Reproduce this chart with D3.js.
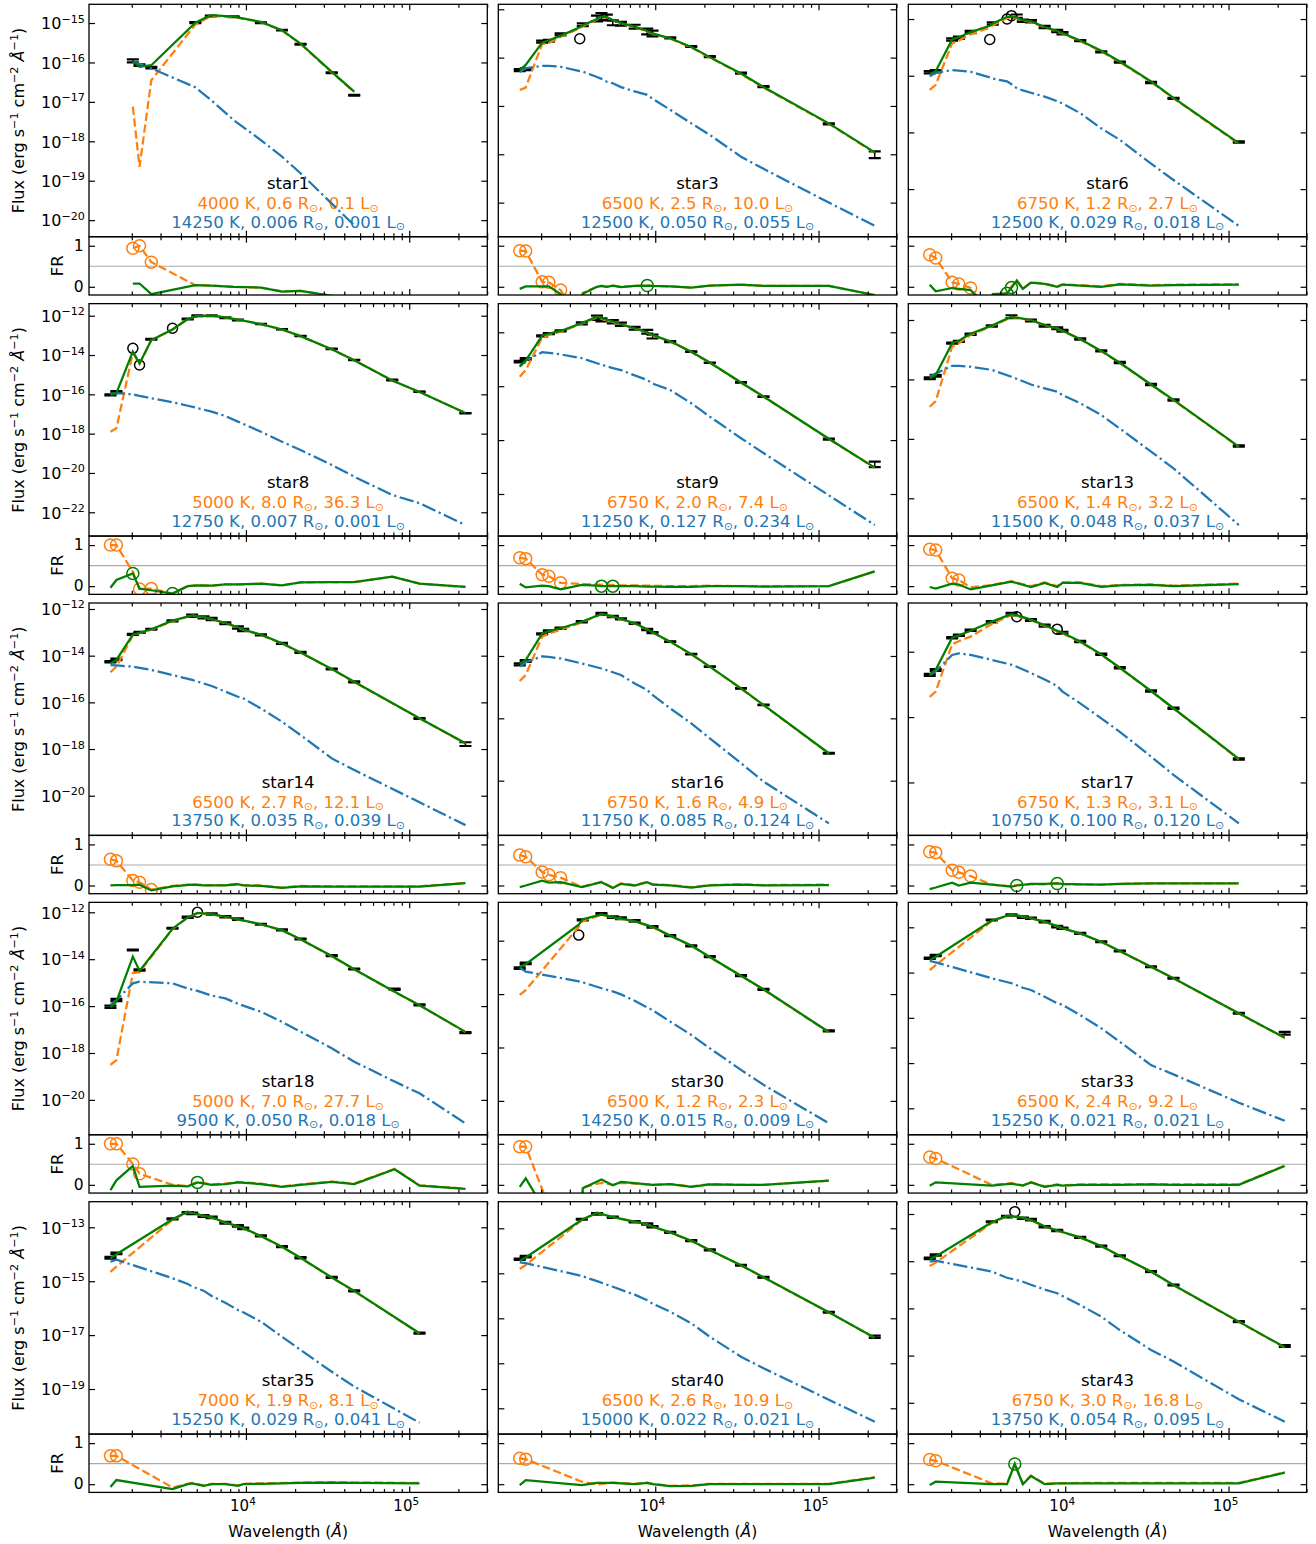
<!DOCTYPE html>
<html lang="en">
<head>
<meta charset="utf-8">
<title>Two-component SED fits</title>
<script src="https://cdn.jsdelivr.net/npm/d3@7/dist/d3.min.js"></script>
<style>
  body { margin: 0; background: #fff; }
  svg text { font-family: "DejaVu Sans", sans-serif; }
</style>
</head>
<body>
<script>
// fluxes are log10(erg s-1 cm-2 A-1), wavelengths in A
// cool = orange dashed, hot = blue dash-dot, tot = green solid, frC/frT = fractional residuals

const xDomain = [1094, 300600];
const xMajorTicks = [1e4, 1e5];
const xMinorTicks = [2e3, 3e3, 4e3, 5e3, 6e3, 7e3, 8e3, 9e3, 2e4, 3e4, 4e4, 5e4, 6e4, 7e4, 8e4, 9e4, 2e5, 3e5];
const frRange = [-0.2, 1.22];
const frTicks = [0, 1];

// ---- star1
const s1Wave = [2030, 2231, 2634, 4900, 6100, 8400, 12350, 16620, 21590, 33526, 46028];
const s1Obs  = [-15.96, -16.07, -16.13, -14.99, -14.82, -14.84, -14.99, -15.18, -15.54, -16.26, -16.83];
const s1Err  = [0.04, 0.02, 0.02, 0.015, 0.01, 0.01, 0.01, 0.01, 0.01, 0.01, 0.01];
const s1Cool = [-17.12, -18.65, -16.45, -15.04, -14.82, -14.85, -14.98, -15.19, -15.53, -16.25, -16.75];
const s1Hot  = [-15.98, -16.04, -16.15, -16.63, -16.95, -17.46, -17.97, -18.39, -18.81, -19.58, -20.13];
const s1Tot  = [-15.96, -16.11, -16.07, -14.99, -14.80, -14.84, -14.97, -15.18, -15.52, -16.24, -16.74];
const s1FrC  = [0.94, 1.0, 0.6, 0.04, 0.03, 0.0, -0.02, -0.11, -0.1, -0.22, -0.3];
const s1FrT  = [0.08, 0.08, -0.18, 0.04, 0.03, 0.0, -0.02, -0.12, -0.1, -0.22, -0.3];
const s1Open = [], s1MarkC = [0, 1, 2], s1MarkT = [];
const s1CoolPar = [4000, 0.6, 0.1], s1HotPar = [14250, 0.006, 0.001];
const s1YRange = [-20.42, -14.525], s1YTicks = [-20, -19, -18, -17, -16, -15];

// ---- star3
const s3Wave = [1480, 1610, 2030, 2231, 2634, 3450, 3600, 4400, 4686, 5050, 5500, 6166, 7480, 8932, 9620, 12350, 16620, 21590, 33526, 46028, 115608, 220883];
const s3Obs  = [-16.26, -16.24, -15.67, -15.65, -15.52, -15.61, -15.32, -15.19, -15.15, -15.17, -15.28, -15.30, -15.36, -15.46, -15.50, -15.59, -15.77, -15.98, -16.32, -16.60, -17.37, -18.01];
const s3Err  = [0.02, 0.02, 0.02, 0.02, 0.02, 0, 0.03, 0.06, 0.07, 0.06, 0.05, 0.04, 0.04, 0.06, 0.06, 0.01, 0.01, 0.01, 0.01, 0.01, 0.01, 0.07];
const s3Cool = [-16.67, -16.62, -15.72, -15.70, -15.57, -15.39, -15.35, -15.21, -15.16, -15.17, -15.23, -15.29, -15.37, -15.46, -15.51, -15.61, -15.79, -16.00, -16.34, -16.62, -17.37, -17.97];
const s3Hot  = [-16.30, -16.22, -16.17, -16.17, -16.19, -16.28, -16.29, -16.40, -16.44, -16.50, -16.53, -16.61, -16.70, -16.77, -16.85, -17.08, -17.36, -17.60, -18.05, -18.30, -19.00, -19.48];
const s3Tot  = [-16.26, -16.15, -15.69, -15.64, -15.55, -15.37, -15.33, -15.20, -15.15, -15.16, -15.22, -15.28, -15.36, -15.45, -15.50, -15.60, -15.78, -15.99, -16.33, -16.61, -17.36, -17.96];
const s3FrC  = [0.88, 0.87, 0.12, 0.11, -0.08, -0.80, -0.15, 0.0, 0.02, 0.0, 0.03, 0.0, 0.02, 0.03, 0.02, 0.01, -0.02, 0.03, 0.05, 0.02, 0.02, -0.2];
const s3FrT  = [-0.05, 0.01, 0.01, 0.01, -0.18, -0.85, -0.17, 0.0, 0.02, 0.0, 0.03, -0.01, 0.02, 0.03, 0.02, 0.01, -0.02, 0.03, 0.05, 0.02, 0.02, -0.2];
const s3Open = [5], s3MarkC = [0, 1, 2, 3, 4], s3MarkT = [13];
const s3CoolPar = [6500, 2.5, 10.0], s3HotPar = [12500, 0.050, 0.055];
const s3YRange = [-19.705, -14.897], s3YTicks = [-19, -18, -17, -16, -15];

// ---- star6
const s6Wave = [1480, 1610, 2030, 2231, 2634, 3450, 3600, 4400, 4686, 5050, 5500, 6166, 7480, 8932, 9620, 12350, 16620, 21590, 33526, 46028, 115608];
const s6Obs  = [-15.94, -15.92, -15.36, -15.33, -15.23, -15.36, -15.08, -15.00, -14.94, -14.95, -15.03, -15.04, -15.14, -15.21, -15.25, -15.38, -15.58, -15.76, -16.12, -16.40, -17.17];
const s6Err  = [0.02, 0.02, 0.02, 0.02, 0.02, 0, 0.02, 0, 0, 0.03, 0.02, 0.02, 0.02, 0.02, 0.02, 0.01, 0.01, 0.01, 0.01, 0.01, 0.01];
const s6Cool = [-16.25, -16.16, -15.43, -15.38, -15.27, -15.15, -15.11, -14.98, -14.98, -14.99, -15.03, -15.05, -15.15, -15.22, -15.26, -15.39, -15.57, -15.76, -16.11, -16.40, -17.20];
const s6Hot  = [-16.01, -15.95, -15.90, -15.91, -15.93, -16.03, -16.05, -16.10, -16.15, -16.22, -16.26, -16.30, -16.37, -16.45, -16.49, -16.66, -16.93, -17.13, -17.55, -17.84, -18.65];
const s6Tot  = [-15.97, -15.92, -15.36, -15.32, -15.23, -15.12, -15.08, -14.96, -14.96, -14.97, -15.02, -15.04, -15.14, -15.21, -15.25, -15.38, -15.56, -15.75, -16.10, -16.39, -17.19];
const s6FrC  = [0.78, 0.70, 0.11, 0.07, -0.03, -0.60, -0.25, -0.15, 0.0, 0.16, -0.04, 0.11, 0.08, 0.01, 0.06, 0.04, 0.01, 0.07, 0.04, 0.05, 0.06];
const s6FrT  = [0.05, -0.11, -0.03, -0.05, -0.08, -0.60, -0.18, -0.16, -0.02, 0.15, -0.05, 0.10, 0.07, 0.0, 0.05, 0.03, 0.0, 0.06, 0.03, 0.04, 0.05];
const s6Open = [5, 7, 8], s6MarkC = [0, 1, 2, 3, 4], s6MarkT = [7, 8];
const s6CoolPar = [6750, 1.2, 2.7], s6HotPar = [12500, 0.029, 0.018];
const s6YRange = [-18.84, -14.74], s6YTicks = [-18, -17, -16, -15];

// ---- star8
const s8Wave = [1480, 1610, 2030, 2231, 2634, 3551, 4400, 5050, 6166, 7480, 8932, 12350, 16620, 21590, 33526, 46028, 78700, 115608, 220883];
const s8Obs  = [-16.03, -15.87, -13.66, -14.51, -13.20, -12.64, -12.17, -12.00, -12.00, -12.10, -12.22, -12.42, -12.69, -13.03, -13.69, -14.25, -15.27, -15.87, -16.96];
const s8Err  = [0.03, 0.03, 0, 0, 0.02, 0, 0.02, 0.02, 0.02, 0.02, 0.02, 0.01, 0.01, 0.01, 0.01, 0.01, 0.02, 0.01, 0.01];
const s8Cool = [-17.90, -17.73, -13.90, -14.45, -13.25, -12.70, -12.17, -12.02, -12.00, -12.08, -12.20, -12.43, -12.70, -13.04, -13.71, -14.27, -15.30, -15.88, -16.95];
const s8Hot  = [-15.97, -15.94, -16.00, -16.08, -16.20, -16.40, -16.58, -16.70, -16.88, -17.10, -17.39, -17.90, -18.41, -18.83, -19.59, -20.19, -21.12, -21.54, -22.65];
const s8Tot  = [-16.03, -15.94, -13.83, -14.43, -13.24, -12.70, -12.17, -12.02, -12.00, -12.08, -12.20, -12.43, -12.70, -13.04, -13.71, -14.27, -15.30, -15.88, -16.95];
const s8FrC  = [1.0, 1.0, 0.35, -0.07, -0.06, -0.18, 0.0, 0.02, 0.01, 0.04, 0.04, 0.06, 0.02, 0.09, 0.1, 0.1, 0.23, 0.06, -0.02];
const s8FrT  = [-0.04, 0.15, 0.31, -0.06, -0.10, -0.18, 0.0, 0.02, 0.01, 0.04, 0.04, 0.06, 0.02, 0.09, 0.1, 0.1, 0.23, 0.06, -0.02];
const s8Open = [2, 3, 5], s8MarkC = [0, 1, 3, 4], s8MarkT = [2, 5];
const s8CoolPar = [5000, 8.0, 36.3], s8HotPar = [12750, 0.007, 0.001];
const s8YRange = [-23.21, -11.387], s8YTicks = [-22, -20, -18, -16, -14, -12];

// ---- star9
const s9Wave = [1480, 1610, 2030, 2231, 2634, 3551, 4400, 4686, 5500, 6166, 7480, 8932, 9620, 12350, 16620, 21590, 33526, 46028, 115608, 220883];
const s9Obs  = [-15.09, -14.99, -14.13, -14.05, -13.95, -13.67, -13.46, -13.54, -13.61, -13.70, -13.85, -13.98, -14.16, -14.35, -14.72, -15.13, -15.86, -16.39, -17.96, -18.90];
const s9Err  = [0.03, 0.03, 0.02, 0.02, 0.02, 0.04, 0.08, 0.06, 0.06, 0.06, 0.05, 0.07, 0.07, 0.02, 0.01, 0.01, 0.01, 0.01, 0.02, 0.10];
const s9Cool = [-15.65, -15.40, -14.20, -14.10, -13.98, -13.68, -13.44, -13.50, -13.62, -13.71, -13.86, -14.01, -14.11, -14.34, -14.73, -15.13, -15.87, -16.39, -17.96, -19.03];
const s9Hot  = [-15.28, -15.05, -14.74, -14.76, -14.82, -14.96, -15.15, -15.20, -15.33, -15.40, -15.60, -15.77, -15.90, -16.14, -16.63, -17.13, -17.93, -18.48, -20.05, -21.15];
const s9Tot  = [-15.26, -15.05, -14.13, -14.05, -13.95, -13.66, -13.42, -13.48, -13.60, -13.70, -13.85, -14.00, -14.10, -14.33, -14.72, -15.12, -15.86, -16.38, -17.95, -19.02];
const s9FrC  = [0.69, 0.67, 0.28, 0.24, 0.08, 0.05, 0.04, 0.03, 0.03, 0.02, 0.02, 0.01, 0.01, 0.0, 0.0, 0.01, 0.0, 0.0, 0.0, 0.36];
const s9FrT  = [0.06, -0.03, 0.01, 0.0, -0.08, 0.03, 0.01, 0.0, 0.0, 0.0, 0.0, -0.01, -0.01, -0.02, -0.02, 0.0, 0.0, -0.01, 0.0, 0.36];
const s9Open = [], s9MarkC = [0, 1, 2, 3, 4], s9MarkT = [7, 8];
const s9CoolPar = [6750, 2.0, 7.4], s9HotPar = [11250, 0.127, 0.234];
const s9YRange = [-21.56, -12.937], s9YTicks = [-20, -18, -16, -14];

// ---- star13
const s13Wave = [1480, 1610, 2030, 2231, 2634, 3551, 4686, 6166, 7480, 8932, 9620, 12350, 16620, 21590, 33526, 46028, 115608];
const s13Obs  = [-13.96, -13.88, -12.78, -12.72, -12.48, -12.20, -11.89, -12.02, -12.19, -12.28, -12.36, -12.64, -13.04, -13.43, -14.17, -14.69, -16.24];
const s13Err  = [0.03, 0.03, 0.02, 0.02, 0.02, 0.02, 0.05, 0.03, 0.03, 0.03, 0.03, 0.02, 0.02, 0.02, 0.02, 0.02, 0.02];
const s13Cool = [-14.92, -14.73, -12.90, -12.78, -12.50, -12.21, -11.90, -12.01, -12.18, -12.29, -12.37, -12.65, -13.05, -13.45, -14.18, -14.70, -16.27];
const s13Hot  = [-13.91, -13.80, -13.54, -13.54, -13.57, -13.68, -13.91, -14.17, -14.30, -14.41, -14.53, -14.80, -15.20, -15.65, -16.43, -16.99, -18.90];
const s13Tot  = [-13.96, -13.85, -12.78, -12.70, -12.46, -12.19, -11.89, -12.00, -12.17, -12.28, -12.36, -12.64, -13.04, -13.44, -14.17, -14.69, -16.26];
const s13FrC  = [0.90, 0.88, 0.19, 0.15, -0.03, 0.03, 0.12, 0.0, 0.09, 0.0, 0.09, 0.09, 0.0, 0.03, 0.04, 0.01, 0.06];
const s13FrT  = [-0.02, -0.06, 0.06, 0.04, -0.08, 0.02, 0.11, -0.02, 0.08, -0.02, 0.08, 0.08, -0.02, 0.02, 0.03, 0.0, 0.05];
const s13Open = [], s13MarkC = [0, 1, 2, 3], s13MarkT = [];
const s13CoolPar = [6500, 1.4, 3.2], s13HotPar = [11500, 0.048, 0.037];
const s13YRange = [-19.27, -11.45], s13YTicks = [-18, -16, -14, -12];

// ---- star14
const s14Wave = [1480, 1610, 2030, 2231, 2634, 3551, 4686, 5500, 6166, 7480, 8932, 9620, 12350, 16620, 21590, 33526, 46028, 115608, 220883];
const s14Obs  = [-14.26, -14.16, -13.09, -13.00, -12.87, -12.51, -12.29, -12.36, -12.43, -12.61, -12.79, -12.90, -13.11, -13.47, -13.86, -14.57, -15.12, -16.69, -17.79];
const s14Err  = [0.03, 0.03, 0.02, 0.02, 0.02, 0.02, 0.05, 0.04, 0.05, 0.04, 0.05, 0.05, 0.02, 0.02, 0.02, 0.02, 0.02, 0.02, 0.08];
const s14Cool = [-14.71, -14.47, -13.13, -13.04, -12.89, -12.52, -12.28, -12.36, -12.44, -12.61, -12.79, -12.89, -13.11, -13.48, -13.87, -14.58, -15.13, -16.69, -17.76];
const s14Hot  = [-14.40, -14.42, -14.47, -14.52, -14.61, -14.83, -15.04, -15.19, -15.30, -15.54, -15.76, -15.83, -16.26, -16.83, -17.40, -18.40, -18.90, -20.28, -21.26];
const s14Tot  = [-14.33, -14.18, -13.10, -13.02, -12.87, -12.50, -12.27, -12.35, -12.43, -12.60, -12.78, -12.88, -13.10, -13.47, -13.86, -14.57, -15.12, -16.68, -17.75];
const s14FrC  = [0.64, 0.60, 0.12, 0.08, -0.10, -0.01, 0.03, 0.01, 0.01, 0.01, 0.04, 0.01, 0.0, -0.05, -0.01, -0.02, -0.02, -0.02, 0.06];
const s14FrT  = [0.0, 0.01, 0.01, 0.02, -0.12, -0.02, 0.02, 0.0, 0.0, 0.0, 0.03, 0.0, -0.01, -0.06, -0.02, -0.03, -0.03, -0.03, 0.06];
const s14Open = [], s14MarkC = [0, 1, 2, 3, 4], s14MarkT = [];
const s14CoolPar = [6500, 2.7, 12.1], s14HotPar = [13750, 0.035, 0.039];
const s14YRange = [-21.70, -11.743], s14YTicks = [-20, -18, -16, -14, -12];

// ---- star16
const s16Wave = [1480, 1610, 2030, 2231, 2634, 3551, 4686, 5500, 6166, 7480, 8932, 9620, 12350, 16620, 21590, 33526, 46028, 115608];
const s16Obs  = [-14.27, -14.16, -13.29, -13.20, -13.11, -12.90, -12.65, -12.73, -12.81, -12.95, -13.15, -13.25, -13.54, -13.94, -14.34, -15.04, -15.57, -17.12];
const s16Err  = [0.03, 0.03, 0.02, 0.02, 0.02, 0.02, 0.03, 0.02, 0.02, 0.02, 0.02, 0.02, 0.01, 0.01, 0.01, 0.01, 0.01, 0.01];
const s16Cool = [-14.80, -14.61, -13.38, -13.28, -13.16, -12.92, -12.66, -12.74, -12.82, -12.96, -13.15, -13.25, -13.55, -13.95, -14.35, -15.05, -15.58, -17.13];
const s16Hot  = [-14.34, -14.20, -14.01, -14.03, -14.08, -14.24, -14.40, -14.52, -14.61, -14.88, -15.09, -15.25, -15.68, -16.16, -16.64, -17.44, -18.03, -19.37];
const s16Tot  = [-14.25, -14.13, -13.28, -13.20, -13.11, -12.90, -12.65, -12.73, -12.81, -12.95, -13.14, -13.24, -13.54, -13.94, -14.34, -15.04, -15.57, -17.12];
const s16FrC  = [0.74, 0.70, 0.33, 0.26, 0.19, -0.03, 0.09, -0.05, 0.05, 0.01, 0.09, 0.03, 0.01, -0.04, 0.01, 0.03, 0.01, 0.02];
const s16FrT  = [-0.04, 0.0, 0.12, 0.07, 0.08, -0.04, 0.08, -0.06, 0.04, 0.0, 0.08, 0.02, 0.0, -0.05, 0.0, 0.02, 0.0, 0.01];
const s16Open = [], s16MarkC = [0, 1, 2, 3, 4], s16MarkT = [];
const s16CoolPar = [6750, 1.6, 4.9], s16HotPar = [11750, 0.085, 0.124];
const s16YRange = [-19.756, -12.30], s16YTicks = [-18, -16, -14];

// ---- star17
const s17Wave = [1480, 1610, 2030, 2231, 2634, 3551, 4686, 5050, 6166, 7480, 8932, 9620, 12350, 16620, 21590, 33526, 46028, 115608];
const s17Obs  = [-14.71, -14.56, -13.57, -13.50, -13.34, -13.08, -12.85, -12.93, -13.03, -13.20, -13.31, -13.42, -13.69, -14.08, -14.49, -15.20, -15.73, -17.28];
const s17Err  = [0.03, 0.03, 0.02, 0.02, 0.02, 0.02, 0.04, 0, 0.03, 0.03, 0, 0.03, 0.02, 0.02, 0.02, 0.02, 0.02, 0.02];
const s17Cool = [-15.38, -15.22, -13.77, -13.68, -13.54, -13.15, -12.88, -12.90, -13.04, -13.21, -13.38, -13.44, -13.70, -14.09, -14.50, -15.21, -15.74, -17.29];
const s17Hot  = [-14.72, -14.60, -14.10, -14.05, -14.10, -14.25, -14.40, -14.46, -14.65, -14.85, -15.05, -15.22, -15.58, -16.04, -16.45, -17.21, -17.77, -19.25];
const s17Tot  = [-14.70, -14.55, -13.57, -13.50, -13.36, -13.08, -12.85, -12.88, -13.02, -13.19, -13.36, -13.42, -13.69, -14.08, -14.49, -15.20, -15.73, -17.28];
const s17FrC  = [0.82, 0.80, 0.37, 0.32, 0.23, 0.02, -0.02, 0.01, 0.03, 0.03, 0.06, 0.03, 0.03, 0.02, 0.04, 0.05, 0.05, 0.05];
const s17FrT  = [-0.09, -0.05, 0.07, 0.0, 0.07, 0.02, -0.03, 0.0, 0.04, 0.04, 0.05, 0.04, 0.03, 0.02, 0.04, 0.05, 0.05, 0.05];
const s17Open = [7, 10], s17MarkC = [0, 1, 2, 3, 4], s17MarkT = [7, 10];
const s17CoolPar = [6750, 1.3, 3.1], s17HotPar = [10750, 0.100, 0.120];
const s17YRange = [-19.62, -12.51], s17YTicks = [-18, -16, -14];

// ---- star18
const s18Wave = [1480, 1610, 2030, 2231, 3551, 4400, 5050, 6166, 7480, 8932, 12350, 16620, 21590, 33526, 46028, 81400, 115608, 220883];
const s18Obs  = [-16.03, -15.74, -13.61, -14.46, -12.68, -12.21, -12.00, -12.07, -12.19, -12.29, -12.51, -12.75, -13.14, -13.85, -14.42, -15.28, -15.95, -17.13];
const s18Err  = [0.05, 0.05, 0.02, 0.03, 0.02, 0.03, 0, 0.03, 0.03, 0.03, 0.02, 0.02, 0.02, 0.02, 0.02, 0.03, 0.02, 0.02];
const s18Cool = [-18.51, -18.30, -14.60, -14.55, -12.72, -12.23, -12.04, -12.09, -12.20, -12.31, -12.52, -12.77, -13.16, -13.87, -14.44, -15.40, -15.97, -17.11];
const s18Hot  = [-15.95, -15.75, -15.03, -14.96, -15.03, -15.25, -15.35, -15.55, -15.67, -15.90, -16.24, -16.67, -17.09, -17.80, -18.37, -19.22, -19.72, -21.00];
const s18Tot  = [-16.05, -15.81, -13.89, -14.50, -12.70, -12.22, -12.03, -12.08, -12.19, -12.30, -12.51, -12.76, -13.15, -13.86, -14.43, -15.39, -15.96, -17.10];
const s18FrC  = [1.0, 1.0, 0.51, 0.27, 0.0, -0.03, 0.07, 0.01, 0.03, 0.07, 0.03, -0.04, 0.01, 0.08, 0.03, 0.39, -0.01, -0.09];
const s18FrT  = [-0.13, 0.11, 0.46, -0.05, -0.02, -0.04, 0.06, 0.0, 0.02, 0.06, 0.02, -0.05, 0.0, 0.07, 0.02, 0.38, -0.02, -0.10];
const s18Open = [6], s18MarkC = [0, 1, 2, 3], s18MarkT = [6];
const s18CoolPar = [5000, 7.0, 27.7], s18HotPar = [9500, 0.050, 0.018];
const s18YRange = [-21.486, -11.576], s18YTicks = [-20, -18, -16, -14, -12];

// ---- star30
const s30Wave = [1480, 1610, 3400, 3600, 4686, 5500, 6166, 7480, 9620, 12350, 16620, 21590, 33526, 46028, 115608];
const s30Obs  = [-14.03, -13.85, -12.79, -12.22, -12.00, -12.12, -12.16, -12.26, -12.48, -12.81, -13.19, -13.60, -14.31, -14.82, -16.38];
const s30Err  = [0.03, 0.03, 0, 0.02, 0.03, 0.03, 0.03, 0.03, 0.03, 0.02, 0.02, 0.02, 0.02, 0.02, 0.02];
const s30Cool = [-15.03, -14.85, -12.48, -12.25, -12.03, -12.13, -12.18, -12.28, -12.49, -12.82, -13.19, -13.62, -14.32, -14.83, -16.43];
const s30Hot  = [-14.01, -14.16, -14.52, -14.56, -14.78, -14.90, -15.01, -15.25, -15.60, -16.03, -16.53, -17.03, -17.84, -18.40, -19.84];
const s30Tot  = [-13.97, -13.88, -12.40, -12.20, -12.02, -12.12, -12.17, -12.27, -12.48, -12.81, -13.18, -13.61, -14.31, -14.82, -16.42];
const s30FrC  = [0.93, 0.93, -2.4, -0.06, 0.05, 0.0, 0.05, 0.03, 0.0, 0.02, -0.04, 0.02, 0.0, 0.0, 0.1];
const s30FrT  = [-0.05, 0.16, -2.0, -0.08, 0.13, -0.01, 0.07, 0.04, 0.0, 0.02, -0.05, 0.01, 0.0, 0.0, 0.1];
const s30Open = [2], s30MarkC = [0, 1], s30MarkT = [];
const s30CoolPar = [6500, 1.2, 2.3], s30HotPar = [14250, 0.015, 0.009];
const s30YRange = [-20.268, -11.564], s30YTicks = [-19, -17, -15, -13];

// ---- star33
const s33Wave = [1480, 1610, 3551, 4686, 5500, 6166, 7480, 8932, 9620, 12350, 16620, 21590, 33526, 46028, 115608, 220883];
const s33Obs  = [-13.37, -13.25, -11.68, -11.46, -11.55, -11.60, -11.75, -11.97, -12.04, -12.27, -12.64, -13.05, -13.74, -14.25, -15.80, -16.68];
const s33Err  = [0.03, 0.03, 0.02, 0.03, 0.03, 0.03, 0.03, 0.03, 0.03, 0.02, 0.02, 0.02, 0.02, 0.02, 0.02, 0.06];
const s33Cool = [-13.89, -13.67, -11.72, -11.44, -11.53, -11.61, -11.76, -11.96, -12.05, -12.28, -12.65, -13.06, -13.75, -14.26, -15.81, -16.89];
const s33Hot  = [-13.49, -13.55, -14.25, -14.47, -14.67, -14.77, -15.07, -15.35, -15.43, -15.88, -16.46, -17.06, -18.09, -18.50, -19.75, -20.55];
const s33Tot  = [-13.44, -13.30, -11.70, -11.43, -11.52, -11.60, -11.75, -11.95, -12.04, -12.27, -12.64, -13.05, -13.74, -14.25, -15.80, -16.88];
const s33FrC  = [0.68, 0.64, 0.0, 0.04, -0.01, 0.07, -0.04, 0.01, -0.01, 0.01, 0.01, 0.01, 0.02, 0.01, 0.01, 0.47];
const s33FrT  = [-0.02, 0.06, -0.02, 0.03, -0.02, 0.06, -0.05, 0.0, -0.02, 0.0, 0.0, 0.0, 0.01, 0.0, 0.0, 0.46];
const s33Open = [], s33MarkC = [0, 1], s33MarkT = [];
const s33CoolPar = [6500, 2.4, 9.2], s33HotPar = [15250, 0.021, 0.021];
const s33YRange = [-21.167, -10.897], s33YTicks = [-20, -18, -16, -14, -12];

// ---- star35
const s35Wave = [1480, 1610, 3551, 4400, 4686, 5500, 6166, 7480, 8932, 9620, 12350, 16620, 21590, 33526, 46028, 115608];
const s35Obs  = [-14.13, -13.97, -12.69, -12.46, -12.48, -12.58, -12.63, -12.83, -12.95, -13.04, -13.32, -13.72, -14.13, -14.86, -15.36, -16.93];
const s35Err  = [0.03, 0.03, 0.02, 0.02, 0.03, 0.03, 0.03, 0.03, 0.03, 0.03, 0.02, 0.02, 0.02, 0.02, 0.02, 0.02];
const s35Cool = [-14.65, -14.46, -12.72, -12.43, -12.47, -12.58, -12.64, -12.83, -12.97, -13.04, -13.33, -13.73, -14.14, -14.87, -15.37, -16.94];
const s35Hot  = [-14.28, -14.20, -14.89, -15.10, -15.20, -15.35, -15.55, -15.80, -16.07, -16.15, -16.50, -17.06, -17.55, -18.36, -18.91, -20.25];
const s35Tot  = [-14.15, -14.00, -12.70, -12.42, -12.46, -12.57, -12.63, -12.82, -12.96, -13.03, -13.32, -13.72, -14.13, -14.86, -15.36, -16.93];
const s35FrC  = [0.69, 0.69, -0.08, 0.01, 0.03, -0.03, 0.01, 0.01, -0.03, 0.01, 0.02, 0.03, 0.04, 0.05, 0.04, 0.03];
const s35FrT  = [-0.07, 0.10, -0.12, 0.0, 0.02, -0.04, 0.0, 0.0, -0.04, 0.0, 0.01, 0.02, 0.03, 0.04, 0.03, 0.02];
const s35Open = [], s35MarkC = [0, 1], s35MarkT = [];
const s35CoolPar = [7000, 1.9, 8.1], s35HotPar = [15250, 0.029, 0.041];
const s35YRange = [-20.673, -12.05], s35YTicks = [-19, -17, -15, -13];

// ---- star40
const s40Wave = [1480, 1610, 3551, 4400, 5500, 7480, 8932, 9620, 12350, 16620, 21590, 33526, 46028, 115608, 220883];
const s40Obs  = [-14.38, -14.26, -12.60, -12.36, -12.51, -12.71, -12.81, -12.93, -13.18, -13.55, -13.96, -14.64, -15.18, -16.73, -17.82];
const s40Err  = [0.03, 0.03, 0.02, 0.03, 0.03, 0.03, 0.03, 0.03, 0.02, 0.02, 0.02, 0.02, 0.02, 0.02, 0.05];
const s40Cool = [-14.81, -14.63, -12.64, -12.32, -12.51, -12.71, -12.83, -12.93, -13.19, -13.56, -13.97, -14.65, -15.19, -16.74, -17.87];
const s40Hot  = [-14.51, -14.55, -15.12, -15.35, -15.60, -15.95, -16.20, -16.35, -16.71, -17.22, -17.82, -18.71, -19.22, -20.62, -21.60];
const s40Tot  = [-14.44, -14.30, -12.62, -12.31, -12.50, -12.70, -12.82, -12.92, -13.18, -13.55, -13.96, -14.64, -15.18, -16.73, -17.86];
const s40FrC  = [0.63, 0.61, 0.06, -0.01, 0.04, 0.01, 0.04, 0.01, -0.04, -0.03, 0.01, 0.01, 0.01, 0.01, 0.17];
const s40FrT  = [-0.02, 0.10, -0.02, 0.03, 0.03, 0.0, 0.03, 0.0, -0.05, -0.04, 0.0, 0.0, 0.0, 0.0, 0.16];
const s40Open = [], s40MarkC = [0, 1], s40MarkT = [];
const s40CoolPar = [6500, 2.6, 10.9], s40HotPar = [15000, 0.022, 0.021];
const s40YRange = [-22.147, -11.818], s40YTicks = [-21, -19, -17, -15, -13];

// ---- star43
const s43Wave = [1480, 1610, 3551, 4400, 4910, 5500, 6166, 7480, 8932, 12350, 16620, 21590, 33526, 46028, 115608, 220883];
const s43Obs  = [-14.88, -14.74, -13.33, -13.11, -12.90, -13.18, -13.24, -13.54, -13.70, -13.99, -14.36, -14.77, -15.44, -16.01, -17.56, -18.59];
const s43Err  = [0.03, 0.03, 0.02, 0.03, 0, 0.03, 0.03, 0.03, 0.03, 0.02, 0.02, 0.02, 0.02, 0.02, 0.02, 0.04];
const s43Cool = [-15.20, -15.06, -13.38, -13.09, -13.12, -13.17, -13.26, -13.53, -13.71, -14.00, -14.37, -14.78, -15.45, -16.02, -17.57, -18.66];
const s43Hot  = [-15.02, -14.98, -15.44, -15.70, -15.78, -15.87, -16.00, -16.20, -16.36, -16.86, -17.35, -17.92, -18.76, -19.25, -20.85, -21.80];
const s43Tot  = [-14.92, -14.80, -13.35, -13.08, -13.11, -13.16, -13.25, -13.52, -13.70, -13.99, -14.36, -14.77, -15.44, -16.01, -17.56, -18.65];
const s43FrC  = [0.60, 0.57, 0.02, 0.01, 0.50, 0.01, 0.21, 0.01, 0.02, 0.03, 0.03, 0.03, 0.03, 0.03, 0.03, 0.29];
const s43FrT  = [-0.02, 0.06, 0.0, 0.0, 0.49, 0.0, 0.20, 0.0, 0.02, 0.02, 0.02, 0.02, 0.02, 0.02, 0.02, 0.28];
const s43Open = [4], s43MarkC = [0, 1], s43MarkT = [4];
const s43CoolPar = [6750, 3.0, 16.8], s43HotPar = [13750, 0.054, 0.095];
const s43YRange = [-22.326, -12.479], s43YTicks = [-21, -19, -17, -15, -13];

function mk(name, wave, obs, err, cool, hot, tot, frC, frT, open, markC, markT, coolPar, hotPar, yRange, yTicks) {
  return {name, wave, obs, err, cool, hot, tot, frC, frT, open, markC, markT, coolPar, hotPar, yRange, yTicks};
}

const stars = [
  mk("star1", s1Wave, s1Obs, s1Err, s1Cool, s1Hot, s1Tot, s1FrC, s1FrT, s1Open, s1MarkC, s1MarkT, s1CoolPar, s1HotPar, s1YRange, s1YTicks),
  mk("star3", s3Wave, s3Obs, s3Err, s3Cool, s3Hot, s3Tot, s3FrC, s3FrT, s3Open, s3MarkC, s3MarkT, s3CoolPar, s3HotPar, s3YRange, s3YTicks),
  mk("star6", s6Wave, s6Obs, s6Err, s6Cool, s6Hot, s6Tot, s6FrC, s6FrT, s6Open, s6MarkC, s6MarkT, s6CoolPar, s6HotPar, s6YRange, s6YTicks),
  mk("star8", s8Wave, s8Obs, s8Err, s8Cool, s8Hot, s8Tot, s8FrC, s8FrT, s8Open, s8MarkC, s8MarkT, s8CoolPar, s8HotPar, s8YRange, s8YTicks),
  mk("star9", s9Wave, s9Obs, s9Err, s9Cool, s9Hot, s9Tot, s9FrC, s9FrT, s9Open, s9MarkC, s9MarkT, s9CoolPar, s9HotPar, s9YRange, s9YTicks),
  mk("star13", s13Wave, s13Obs, s13Err, s13Cool, s13Hot, s13Tot, s13FrC, s13FrT, s13Open, s13MarkC, s13MarkT, s13CoolPar, s13HotPar, s13YRange, s13YTicks),
  mk("star14", s14Wave, s14Obs, s14Err, s14Cool, s14Hot, s14Tot, s14FrC, s14FrT, s14Open, s14MarkC, s14MarkT, s14CoolPar, s14HotPar, s14YRange, s14YTicks),
  mk("star16", s16Wave, s16Obs, s16Err, s16Cool, s16Hot, s16Tot, s16FrC, s16FrT, s16Open, s16MarkC, s16MarkT, s16CoolPar, s16HotPar, s16YRange, s16YTicks),
  mk("star17", s17Wave, s17Obs, s17Err, s17Cool, s17Hot, s17Tot, s17FrC, s17FrT, s17Open, s17MarkC, s17MarkT, s17CoolPar, s17HotPar, s17YRange, s17YTicks),
  mk("star18", s18Wave, s18Obs, s18Err, s18Cool, s18Hot, s18Tot, s18FrC, s18FrT, s18Open, s18MarkC, s18MarkT, s18CoolPar, s18HotPar, s18YRange, s18YTicks),
  mk("star30", s30Wave, s30Obs, s30Err, s30Cool, s30Hot, s30Tot, s30FrC, s30FrT, s30Open, s30MarkC, s30MarkT, s30CoolPar, s30HotPar, s30YRange, s30YTicks),
  mk("star33", s33Wave, s33Obs, s33Err, s33Cool, s33Hot, s33Tot, s33FrC, s33FrT, s33Open, s33MarkC, s33MarkT, s33CoolPar, s33HotPar, s33YRange, s33YTicks),
  mk("star35", s35Wave, s35Obs, s35Err, s35Cool, s35Hot, s35Tot, s35FrC, s35FrT, s35Open, s35MarkC, s35MarkT, s35CoolPar, s35HotPar, s35YRange, s35YTicks),
  mk("star40", s40Wave, s40Obs, s40Err, s40Cool, s40Hot, s40Tot, s40FrC, s40FrT, s40Open, s40MarkC, s40MarkT, s40CoolPar, s40HotPar, s40YRange, s40YTicks),
  mk("star43", s43Wave, s43Obs, s43Err, s43Cool, s43Hot, s43Tot, s43FrC, s43FrT, s43Open, s43MarkC, s43MarkT, s43CoolPar, s43HotPar, s43YRange, s43YTicks)
];

// layout
const colX = [89, 498.3, 908.3], panelW = 398.3;
const rowY = [4.3, 303.65, 603.0, 902.35, 1201.7], mainH = 232.4, frH = 58.3;
const ORANGE = "#ff7f0e", BLUE = "#1f77b4", GREEN = "green";
const P = v => Math.pow(10, v);
const MINUS = "\u2212", SUN = "\u2299";

const svg = d3.select("body").append("svg")
  .attr("width", 1316).attr("height", 1544);
const defs = svg.append("defs");

function tickX(g, x, yPos, dir) { // dir +1 = ticks point down
  [[xMajorTicks, 6], [xMinorTicks, 3.5]].forEach(([vals, len]) => {
    g.append("g").attr("transform", `translate(0,${yPos})`)
      .call(d3.axisBottom(x).tickValues(vals.filter(v => v <= xDomain[1])).tickSize(dir * len).tickFormat(""))
      .call(a => a.select(".domain").remove())
      .call(a => a.selectAll("line").attr("stroke-width", 1.2));
  });
}
function tickY(g, y, xPos, vals, dir) { // dir +1 = ticks point right
  g.append("g").attr("transform", `translate(${xPos},0)`)
    .call(d3.axisLeft(y).tickValues(vals).tickSize(-dir * 6).tickFormat(""))
    .call(a => a.select(".domain").remove())
    .call(a => a.selectAll("line").attr("stroke-width", 1.2));
}
function sunLine(g, xc, yb, color, txt1, txt2) {
  const t = g.append("text").attr("x", xc).attr("y", yb)
    .attr("text-anchor", "middle").attr("fill", color).attr("font-size", 16.5);
  t.append("tspan").text(txt1 + " R");
  t.append("tspan").attr("font-size", 11).attr("dy", 2.5).text(SUN);
  t.append("tspan").attr("dy", -2.5).text(", " + txt2 + " L");
  t.append("tspan").attr("font-size", 11).attr("dy", 2.5).text(SUN);
}

stars.forEach((s, i) => {
  const col = i % 3, row = Math.floor(i / 3);
  const x0 = colX[col], top = rowY[row], bot = top + mainH, frBot = bot + frH;
  const x = d3.scaleLog().domain(xDomain).range([x0, x0 + panelW]);
  const y = d3.scaleLog().domain(s.yRange.map(P)).range([bot, top]);
  const yf = d3.scaleLinear().domain(frRange).range([frBot, bot]);
  const pts = s.wave.map((w, j) => ({w, j}));

  defs.append("clipPath").attr("id", "cm" + i).append("rect")
    .attr("x", x0).attr("y", top).attr("width", panelW).attr("height", mainH);
  defs.append("clipPath").attr("id", "cf" + i).append("rect")
    .attr("x", x0).attr("y", bot).attr("width", panelW).attr("height", frH);

  const g = svg.append("g");
  const xc = x0 + panelW / 2;

  // annotations
  g.append("text").attr("x", xc).attr("y", bot - 47.7).attr("text-anchor", "middle")
    .attr("font-size", 16.5).attr("fill", "#000").text(s.name);
  sunLine(g, xc, bot - 27.7, ORANGE, `${s.coolPar[0]} K, ${s.coolPar[1].toFixed(1)}`, s.coolPar[2].toFixed(1));
  sunLine(g, xc, bot - 9, BLUE, `${s.hotPar[0]} K, ${s.hotPar[1].toFixed(3)}`, s.hotPar[2].toFixed(3));

  // main panel
  const gm = g.append("g").attr("clip-path", `url(#cm${i})`);
  const eb = gm.append("g").selectAll("g")
    .data(pts.filter(d => !s.open.includes(d.j))).join("g");
  eb.append("line")
    .attr("x1", d => x(d.w)).attr("x2", d => x(d.w))
    .attr("y1", d => y(P(s.obs[d.j] - s.err[d.j])))
    .attr("y2", d => y(P(s.obs[d.j] + s.err[d.j])))
    .attr("stroke", "#000").attr("stroke-width", 1.5);
  [-1, 1].forEach(sg => {
    eb.append("line")
      .attr("x1", d => x(d.w) - 6).attr("x2", d => x(d.w) + 6)
      .attr("y1", d => y(P(s.obs[d.j] + sg * s.err[d.j])))
      .attr("y2", d => y(P(s.obs[d.j] + sg * s.err[d.j])))
      .attr("stroke", "#000").attr("stroke-width", 2.2);
  });
  gm.append("g").selectAll("circle")
    .data(pts.filter(d => s.open.includes(d.j))).join("circle")
    .attr("cx", d => x(d.w)).attr("cy", d => y(P(s.obs[d.j]))).attr("r", 5)
    .attr("fill", "none").attr("stroke", "#000").attr("stroke-width", 1.5);

  const mline = key => d3.line().x(d => x(d.w)).y(d => y(P(s[key][d.j])));
  gm.append("path").datum(pts).attr("d", mline("cool"))
    .attr("fill", "none").attr("stroke", ORANGE).attr("stroke-width", 2.25)
    .attr("stroke-dasharray", "8.3,3.6");
  gm.append("path").datum(pts).attr("d", mline("hot"))
    .attr("fill", "none").attr("stroke", BLUE).attr("stroke-width", 2.25)
    .attr("stroke-dasharray", "14.4,3.6,2.25,3.6");
  gm.append("path").datum(pts).attr("d", mline("tot"))
    .attr("fill", "none").attr("stroke", GREEN).attr("stroke-width", 2.25);

  // residual panel
  const gf = g.append("g").attr("clip-path", `url(#cf${i})`);
  gf.append("line").attr("x1", x0).attr("x2", x0 + panelW)
    .attr("y1", yf(0.5)).attr("y2", yf(0.5))
    .attr("stroke", "#aaaaaa").attr("stroke-width", 1.1);
  const fline = key => d3.line().x(d => x(d.w)).y(d => yf(s[key][d.j]));
  gf.append("path").datum(pts).attr("d", fline("frC"))
    .attr("fill", "none").attr("stroke", ORANGE).attr("stroke-width", 2.25)
    .attr("stroke-dasharray", "8.3,3.6");
  gf.append("g").selectAll("circle").data(pts.filter(d => s.markC.includes(d.j))).join("circle")
    .attr("cx", d => x(d.w)).attr("cy", d => yf(s.frC[d.j])).attr("r", 6)
    .attr("fill", "none").attr("stroke", ORANGE).attr("stroke-width", 1.5);
  gf.append("path").datum(pts).attr("d", fline("frT"))
    .attr("fill", "none").attr("stroke", GREEN).attr("stroke-width", 2.25);
  gf.append("g").selectAll("circle").data(pts.filter(d => s.markT.includes(d.j))).join("circle")
    .attr("cx", d => x(d.w)).attr("cy", d => yf(s.frT[d.j])).attr("r", 6)
    .attr("fill", "none").attr("stroke", GREEN).attr("stroke-width", 1.5);

  // frames and ticks
  [[top, mainH], [bot, frH]].forEach(([yy, hh]) => {
    g.append("rect").attr("x", x0).attr("y", yy).attr("width", panelW).attr("height", hh)
      .attr("fill", "none").attr("stroke", "#000").attr("stroke-width", 1.3);
  });
  tickX(g, x, top, 1);
  tickX(g, x, bot, -1);
  tickX(g, x, bot, 1);
  tickX(g, x, frBot, -1);
  const yt = s.yTicks.map(P);
  tickY(g, y, x0, yt, 1);
  tickY(g, y, x0 + panelW, yt, -1);
  tickY(g, yf, x0, frTicks, 1);
  tickY(g, yf, x0 + panelW, frTicks, -1);

  // left column labels
  if (col === 0) {
    s.yTicks.forEach(e => {
      const t = g.append("text").attr("x", x0 - 4).attr("y", y(P(e)) + 6.3)
        .attr("text-anchor", "end").attr("font-size", 16);
      t.append("tspan").text("10");
      t.append("tspan").attr("font-size", 11.2).attr("dy", -6.8).text(MINUS + Math.abs(e));
    });
    frTicks.forEach(v => {
      g.append("text").attr("x", x0 - 5.5).attr("y", yf(v) + 5.3)
        .attr("text-anchor", "end").attr("font-size", 15.5).text(v);
    });
    const yl = g.append("text")
      .attr("transform", `translate(24.3,${(top + bot) / 2}) rotate(-90)`)
      .attr("text-anchor", "middle").attr("font-size", 16);
    yl.append("tspan").text("Flux (erg s");
    yl.append("tspan").attr("font-size", 11.2).attr("dy", -6.5).text(MINUS + "1");
    yl.append("tspan").attr("dy", 6.5).text(" cm");
    yl.append("tspan").attr("font-size", 11.2).attr("dy", -6.5).text(MINUS + "2");
    yl.append("tspan").attr("dy", 6.5).text(" ");
    yl.append("tspan").attr("font-style", "italic").text("\u00c5");
    yl.append("tspan").attr("font-size", 11.2).attr("dy", -6.5).text(MINUS + "1");
    yl.append("tspan").attr("dy", 6.5).text(")");
    g.append("text")
      .attr("transform", `translate(63,${(bot + frBot) / 2}) rotate(-90)`)
      .attr("text-anchor", "middle").attr("font-size", 16.5).text("FR");
  }

  // bottom row labels
  if (row === 4) {
    xMajorTicks.forEach(v => {
      const t = g.append("text").attr("x", x(v) - 3).attr("y", frBot + 18.3)
        .attr("text-anchor", "middle").attr("font-size", 15);
      t.append("tspan").text("10");
      t.append("tspan").attr("font-size", 10.5).attr("dy", -6).text(Math.round(Math.log10(v)));
    });
    const xl = g.append("text").attr("x", xc).attr("y", frBot + 44.3)
      .attr("text-anchor", "middle").attr("font-size", 15.5);
    xl.append("tspan").text("Wavelength (");
    xl.append("tspan").attr("font-style", "italic").text("\u00c5");
    xl.append("tspan").text(")");
  }
});
</script>
</body>
</html>
